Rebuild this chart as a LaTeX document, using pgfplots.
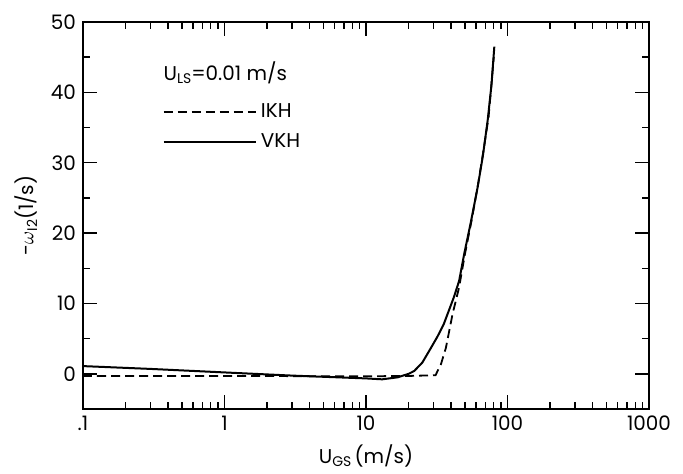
\documentclass[border=0pt]{standalone}
\usepackage{fontspec}
\setmainfont{Poppins}
\usepackage{pgfplots}
\pgfplotsset{compat=1.18}
\newcommand{\sub}[1]{\raisebox{-0.35ex}{\fontsize{7}{8}\selectfont #1}}

\begin{document}
\begin{tikzpicture}
\begin{semilogxaxis}[
    scale only axis,
    width=283bp, height=193.5bp,
    xmin=0.1, xmax=1000, ymin=-5, ymax=50,
    xtick={0.1,1,10,100,1000},
    xticklabels={.1,1,10,100,1000},
    ytick={0,10,...,50},
    minor ytick={5,15,...,45},
    /pgf/number format/assume math mode=true,
    tick align=inside, major tick length=7bp, minor tick length=3.5bp,
    axis line style={line width=0.9bp}, tick style={black, line width=0.7bp},
    tick label style={font=\fontsize{10}{12}\selectfont},
    label style={font=\fontsize{10}{12}\selectfont},
    xlabel={U\sub{GS}\,(m/s)},
    ylabel={-$\omega$\sub{I2}(1/s)},
    legend style={at={(rel axis cs:0.13,0.81)}, anchor=north west,
        draw=none, fill=none, font=\fontsize{10}{12}\selectfont,
        row sep=2.5bp, cells={anchor=west}},
    legend image code/.code={\draw[#1, line width=0.9bp] (0bp,0bp) -- (41bp,0bp);
        \path (0bp,0bp) -- (46bp,0bp);},
]
\addplot[black, line width=0.9bp, dash pattern=on 4.5bp off 2.5bp] coordinates {
(0.1,-0.3) (1,-0.3) (10,-0.35) (20,-0.3) (31,-0.2) (33.9,1.4) (36.7,3.7)
(40.9,8.5) (45.5,12.3) (50,17) (56,22) (62,27) (68,32) (73.5,36.5) (80,45)
};
\addlegendentry{IKH}
\addplot[black, line width=1bp] coordinates {
(0.1,1.1) (0.3,0.7) (1,0.2) (3,-0.25) (10,-0.65) (13,-0.78) (16.7,-0.5)
(20,0) (21.9,0.4) (25,1.6) (28.8,3.7) (32,5.3) (35.5,7.1) (41.8,10.9)
(45.5,13.2) (49.5,17.1) (55,21.5) (61.5,26.5) (67,31) (72.4,36) (77,41)
(80.7,46.5)
};
\addlegendentry{VKH}
\node[anchor=base west, font=\fontsize{10}{12}\selectfont] at (rel axis cs:0.13,0.85) {U\sub{LS}=0.01 m/s};
\coordinate (bl) at (rel axis cs:0,0);
\coordinate (tr) at (rel axis cs:1,1);
\end{semilogxaxis}
\path ([shift={(-41.5bp,-32bp)}]bl) rectangle ([shift={(17bp,11bp)}]tr);
\end{tikzpicture}
\end{document}
